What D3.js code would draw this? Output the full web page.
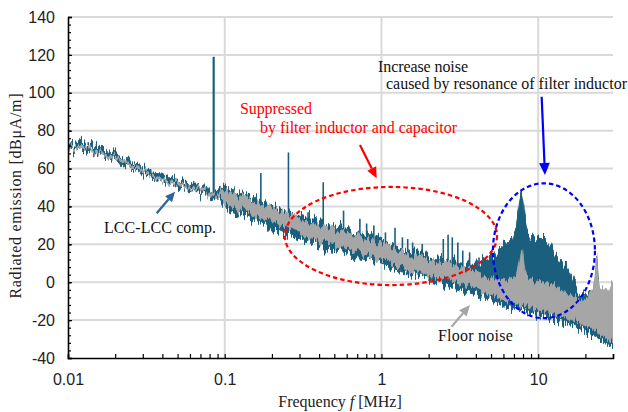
<!DOCTYPE html>
<html>
<head>
<meta charset="utf-8">
<script src="https://cdn.jsdelivr.net/npm/d3@7"></script>
<style>
  html, body { margin: 0; padding: 0; background: #fff; }
  svg { display: block; font-family: "Liberation Serif", "Times New Roman", serif; }
</style>
</head>
<body>
<svg id="chart" width="628" height="412"></svg>
<script>
// Frequencies of the spectrum samples (MHz)
const freqs = [
  0.010, 0.011, 0.012, 0.013, 0.014, 0.015, 0.016, 0.018, 0.020, 0.022, 0.024, 0.026, 0.028, 0.030,
  0.033, 0.036, 0.040, 0.044, 0.048, 0.052, 0.056, 0.060, 0.065, 0.070, 0.075, 0.080, 0.090,
  0.10, 0.11, 0.12, 0.13, 0.14, 0.15, 0.16, 0.18, 0.20, 0.22, 0.24, 0.26, 0.28, 0.30,
  0.33, 0.36, 0.40, 0.44, 0.48, 0.52, 0.56, 0.60, 0.65, 0.70, 0.75, 0.80, 0.90,
  1.0, 1.1, 1.2, 1.3, 1.4, 1.5, 1.6, 1.8, 2.0, 2.2, 2.4, 2.6, 2.8, 3.0, 3.3, 3.6, 4.0, 4.4, 4.8, 5.2, 5.6,
  6.0, 6.5, 6.9, 7.27, 7.45, 7.63, 7.83, 8.01, 8.21, 8.42, 8.84, 9.3, 9.75, 10.5, 11.3, 11.9, 12.4,
  13.7, 15.2, 16.7, 18.4, 19.3, 20.5, 22.4, 23.1, 23.6, 24.1, 24.7, 27.3, 28.6, 30
];

// LCC-LCC comp. : upper / lower envelope (dBuA/m)
const blueHi = [
  75, 72.5, 75, 71.5, 73.5, 70, 72.5, 68, 69, 64.5, 66, 62, 63.5, 59.5,
  60, 57.5, 57, 54.5, 55.5, 52, 54, 51, 52.5, 49.5, 51.5, 48, 49,
  51, 49, 48.5, 46.5, 46, 45, 44, 42, 41, 39.5, 38.5, 37, 36.5, 35.5,
  34.5, 33, 32, 31, 30, 29.5, 28.5, 28, 27, 26, 25.5, 24.5, 23,
  21.5, 20, 19, 18, 17, 16.5, 15.5, 14.5, 13.5, 12.5, 12, 11.5, 11, 10.5, 10, 10, 10, 11, 12.5, 14.5, 17,
  19, 21, 23.5, 31, 36, 43, 47.5, 43, 34, 28.5, 24, 23, 23, 22.5, 22.5, 21, 17,
  12.5, 8, 1, -6, -8, -7, -4.5, 3, 13, 2, -3, -4.5, -5.5, -5
];
const blueLo = [
  71.5, 69, 71.5, 68, 70, 66.5, 69, 64.5, 65.5, 61, 62.5, 58.5, 60, 56,
  56.5, 54, 53.5, 51, 52, 48.5, 50.5, 47.5, 49, 46, 48, 44.5, 45.5,
  39.5, 37.5, 36.5, 35, 34.5, 33, 32.5, 31, 27.5, 28, 26.5, 25.5, 24, 23.5,
  21.5, 21, 19, 18.5, 17, 16.5, 15.5, 15, 14, 13, 12.5, 11.5, 10,
  9, 8, 6.5, 6, 5, 4, 3.5, 2, 1, 0.5, -0.5, -1.5, -2.5, -3, -4, -5, -6, -7.5, -8.5, -10, -11.5,
  -13, -13.5, -14, -14.5, -14.5, -15, -15, -15.5, -15.5, -16, -16.5, -17, -17.5, -18, -18.5, -19, -19.5,
  -20.5, -22, -23, -24.5, -25.5, -26.5, -28, -28.5, -29, -29.5, -30.5, -33, -34, -35
];

// Floor noise : upper / lower envelope (dBuA/m)
const grayHi = [
  73, 71, 72.5, 71.5, 71.5, 68.5, 70.5, 66.5, 67, 64.5, 64, 60.5, 61.5, 59.5,
  58, 55.5, 55, 52.5, 53.5, 52.5, 52, 49.5, 50.5, 50, 49.5, 46.5, 47,
  49, 47.5, 46.5, 45, 44.5, 43, 42.5, 40.5, 39.5, 37.5, 37, 35.5, 35, 33.5,
  33, 31, 30.5, 29, 28.5, 27.5, 27, 26, 25.5, 24, 24, 22.5, 21.5,
  20, 18.5, 17.5, 16.5, 15.5, 15, 14, 13, 12, 11, 10.5, 9.5, 9, 8.5, 7.5, 6.5, 5.5, 4, 3, 2, 1,
  1, 0.5, 1, 4, 8, 13, 19, 13, 6, 3, 1.5, 1, 0, 0.5, -0.5, -1, -1.5,
  -3, -6, -7, -9, -10, -9, -4, 3, 13, 2, -3, -4, -3, -1
];
const grayLo = [
  71.8, 69.8, 71.3, 70.3, 70.3, 67.3, 69.3, 65.3, 65.8, 63.3, 62.8, 59.3, 60.3, 58.3,
  56.8, 54.3, 53.8, 51.3, 52.3, 51.3, 50.8, 48.3, 49.3, 48.8, 48.3, 45.3, 45.8,
  42, 40.5, 39, 38.5, 37, 36, 35, 34, 32, 31, 29.5, 28.5, 27, 26.5,
  24.5, 24, 22, 21.5, 20, 19.5, 18.5, 18, 17, 16, 15.5, 14.5, 13,
  11.5, 10.5, 9, 8.5, 7.5, 6.5, 6, 4.5, 3.5, 3, 2, 1, 0.5, 0, -1, -2, -3, -4.5, -5.5, -7, -8.5,
  -10, -10.5, -11, -11.5, -11.5, -12, -12, -12.5, -12.5, -13, -13.5, -14, -14.5, -15, -15.5, -16, -16.5,
  -17.5, -19, -20, -21.5, -22.5, -23.5, -25, -25.5, -26, -26.5, -27.5, -30, -31, -32
];

// Harmonic spikes of LCC-LCC comp.
const spikeFreqs = [0.085, 0.17, 0.255, 0.34, 0.425, 0.573, 0.728, 0.804, 0.894, 1.06, 1.22, 1.36,
  1.47, 1.58, 1.82, 2.48, 2.66, 2.83, 3.07, 3.30, 3.65, 4.19, 4.62, 5.07];
const spikePeaks = [119, 57.6, 68.5, 37, 52.8, 37.8, 33.5, 31, 30, 26.3, 28.7, 23.7,
  22.8, 21, 20.2, 22.8, 25.1, 23.7, 21, 16.7, 15.8, 13.1, 12.3, 11.4];

const yTicks = [-40, -20, 0, 20, 40, 60, 80, 100, 120, 140];
const yTickLabels = ["-40", "-20", "0", "20", "40", "60", "80", "100", "120", "140"];
const xTicks = [0.01, 0.1, 1, 10];
const xTickLabels = ["0.01", "0.1", "1", "10"];

const svg = d3.select("#chart");
const x = d3.scaleLog().domain([0.01, 30]).range([68, 613]);
const y = d3.scaleLinear().domain([-40, 140]).range([358, 17]);

const blue = "#1b5f7f";
const gray = "#a6a6a6";

// Rauschtextur fuer die Hüllkurven (nur vertikal verschieben)
const defs = svg.append("defs");
function noiseFilter(id, seed, amount) {
  const f = defs.append("filter").attr("id", id)
    .attr("filterUnits", "userSpaceOnUse")
    .attr("x", 0).attr("y", 0).attr("width", 628).attr("height", 412)
    .attr("color-interpolation-filters", "sRGB");
  f.append("feTurbulence").attr("type", "fractalNoise")
    .attr("baseFrequency", "0.45 0.006").attr("numOctaves", 2)
    .attr("seed", seed).attr("result", "t");
  f.append("feColorMatrix").attr("in", "t").attr("type", "matrix")
    .attr("values", "0 0 0 0 0.5  0 1 0 0 0  0 0 0 0 0  0 0 0 0 1")
    .attr("result", "m");
  f.append("feDisplacementMap").attr("in", "SourceGraphic").attr("in2", "m")
    .attr("scale", amount).attr("xChannelSelector", "R").attr("yChannelSelector", "G");
}
noiseFilter("jitterBlue", 3, 22);
noiseFilter("jitterGray", 11, 16);

// Gitter
svg.append("g").selectAll("line").data(yTicks.filter(d => d > -40)).join("line")
  .attr("x1", 68).attr("x2", 613)
  .attr("y1", d => y(d)).attr("y2", d => y(d))
  .attr("stroke", "#d9d9d9").attr("stroke-width", 2);
svg.append("g").selectAll("line").data(xTicks.filter(d => d > 0.01)).join("line")
  .attr("x1", d => x(d)).attr("x2", d => x(d))
  .attr("y1", 17).attr("y2", 358)
  .attr("stroke", "#d9d9d9").attr("stroke-width", 2);

svg.append("clipPath").attr("id", "plot")
  .append("rect").attr("x", 68).attr("y", 10).attr("width", 545).attr("height", 348);
const plot = svg.append("g").attr("clip-path", "url(#plot)");

const area = d3.area().x(d => x(d.f)).y0(d => y(d.lo)).y1(d => y(d.hi));
const band = (hi, lo) => freqs.map((f, i) => ({ f: f, hi: hi[i], lo: lo[i] }));

// middle of the floor band, for the base of the spikes
function grayMid(f) {
  const j = Math.max(1, Math.min(freqs.length - 1, d3.bisectLeft(freqs, f)));
  const t = Math.log(f / freqs[j - 1]) / Math.log(freqs[j] / freqs[j - 1]);
  const m = k => (grayHi[k] + grayLo[k]) / 2;
  return m(j - 1) + t * (m(j) - m(j - 1));
}

// LCC-LCC comp.
plot.append("path").datum(band(blueHi, blueLo))
  .attr("d", area).attr("fill", blue)
  .attr("stroke", blue).attr("stroke-width", 1).attr("stroke-linejoin", "round")
  .attr("filter", "url(#jitterBlue)");

plot.append("g").selectAll("line").data(spikeFreqs).join("line")
  .attr("x1", d => x(d)).attr("x2", d => x(d))
  .attr("y1", d => y(grayMid(d)))
  .attr("y2", (d, i) => y(spikePeaks[i]))
  .attr("stroke", blue)
  .attr("stroke-width", (d, i) => i === 0 ? 2.2 : 1.6);

// Floor noise
plot.append("path").datum(band(grayHi, grayLo))
  .attr("d", area).attr("fill", gray)
  .attr("stroke", gray).attr("stroke-width", 0.8).attr("stroke-linejoin", "round")
  .attr("filter", "url(#jitterGray)");

// Achsen
const yMinor = d3.range(-40, 141, 4);
const xMinor = [];
[0.01, 0.1, 1, 10].forEach(dec => {
  for (let k = 2; k <= 9; k++) if (dec * k <= 30) xMinor.push(dec * k);
});

svg.append("g").attr("transform", "translate(68,0)")
  .call(d3.axisLeft(y).tickValues(yMinor).tickSize(-3).tickFormat(""))
  .call(g => g.select(".domain").remove())
  .selectAll("line").attr("stroke-width", 1.2);
svg.append("g").attr("transform", "translate(0,358)")
  .call(d3.axisBottom(x).tickValues(xMinor).tickSize(-4).tickFormat(""))
  .call(g => g.select(".domain").remove())
  .selectAll("line").attr("stroke-width", 1.2);

svg.append("g").attr("transform", "translate(68,0)")
  .call(d3.axisLeft(y).tickValues(yTicks).tickSize(-4).tickPadding(13)
    .tickFormat((d, i) => yTickLabels[i]))
  .call(g => g.select(".domain").attr("stroke-width", 1.6))
  .call(g => g.selectAll("line").attr("stroke-width", 1.2))
  .call(g => g.selectAll("text").attr("font-family", null).attr("font-size", 16).attr("fill", "#222"));

svg.append("g").attr("transform", "translate(0,358)")
  .call(d3.axisBottom(x).tickValues(xTicks).tickSize(-4).tickPadding(16)
    .tickFormat((d, i) => xTickLabels[i]))
  .call(g => g.select(".domain").attr("stroke-width", 1.6))
  .call(g => g.selectAll("line").attr("stroke-width", 1.2))
  .call(g => g.selectAll("text").attr("font-family", null).attr("font-size", 16).attr("fill", "#222"));

// Achsentitel
const xTitle = svg.append("text")
  .attr("x", 340).attr("y", 407).attr("text-anchor", "middle")
  .attr("font-size", 16).attr("fill", "#222");
xTitle.append("tspan").text("Frequency ");
xTitle.append("tspan").attr("font-style", "italic").text("f");
xTitle.append("tspan").text(" [MHz]");

svg.append("text")
  .attr("transform", "translate(21,196) rotate(-90)")
  .attr("text-anchor", "middle").attr("font-size", 16).attr("fill", "#222")
  .attr("textLength", 205).attr("lengthAdjust", "spacing")
  .text("Radiated emission [dBμA/m]");

// Markierungen
const ellipses = [
  { fL: 0.242, fR: 5.46, vT: 50.3, vB: -1.5, color: "#ff0000" },
  { fL: 5.14, fR: 23.0, vT: 52.2, vB: -19, color: "#0000ff" }
];
ellipses.forEach(e => {
  svg.append("ellipse")
    .attr("cx", (x(e.fL) + x(e.fR)) / 2).attr("cy", (y(e.vT) + y(e.vB)) / 2)
    .attr("rx", (x(e.fR) - x(e.fL)) / 2).attr("ry", (y(e.vB) - y(e.vT)) / 2)
    .attr("fill", "none").attr("stroke", e.color)
    .attr("stroke-width", 2.2).attr("stroke-dasharray", "4.5,3");
});

const arrows = [
  { f1: 0.0368, v1: 36.4, f2: 0.0482, v2: 47.8, color: "#2f6496", head: 10 },
  { f1: 0.729, v1: 72.4, f2: 0.932, v2: 54.9, color: "#ff0000", head: 11 },
  { f1: 10.52, v1: 97.9, f2: 11.04, v2: 56.6, color: "#0000ff", head: 12 },
  { f1: 2.80, v1: -23.5, f2: 3.67, v2: -12, color: "#a6a6a6", head: 11 }
];
arrows.forEach(a => {
  const x1 = x(a.f1), y1 = y(a.v1), x2 = x(a.f2), y2 = y(a.v2);
  const ang = Math.atan2(y2 - y1, x2 - x1);
  const w = a.head * 0.45;
  const bx = x2 - a.head * Math.cos(ang), by = y2 - a.head * Math.sin(ang);
  svg.append("line")
    .attr("x1", x1).attr("y1", y1).attr("x2", bx).attr("y2", by)
    .attr("stroke", a.color).attr("stroke-width", 2.2);
  svg.append("path")
    .attr("d", `M${x2},${y2}L${bx - w * Math.sin(ang)},${by + w * Math.cos(ang)}L${bx + w * Math.sin(ang)},${by - w * Math.cos(ang)}Z`)
    .attr("fill", a.color);
});

const notes = [
  { f: 0.01697, v: 26, text: "LCC-LCC comp.", color: "#111", len: 112 },
  { f: 0.1251, v: 88.6, text: "Suppressed", color: "#ff0000", len: 72 },
  { f: 0.168, v: 78.6, text: "by filter inductor and capacitor", color: "#ff0000", len: 197 },
  { f: 0.95, v: 111.1, text: "Increase noise", color: "#111", len: 90 },
  { f: 1.068, v: 101.8, text: "caused by resonance of filter inductor", color: "#111", len: 241 },
  { f: 2.29, v: -31, text: "Floor noise", color: "#111", len: 75 }
];
svg.append("g").selectAll("text").data(notes).join("text")
  .attr("x", d => x(d.f)).attr("y", d => y(d.v))
  .attr("font-size", 16).attr("fill", d => d.color)
  .attr("textLength", d => d.len).attr("lengthAdjust", "spacing")
  .text(d => d.text);
</script>
</body>
</html>
